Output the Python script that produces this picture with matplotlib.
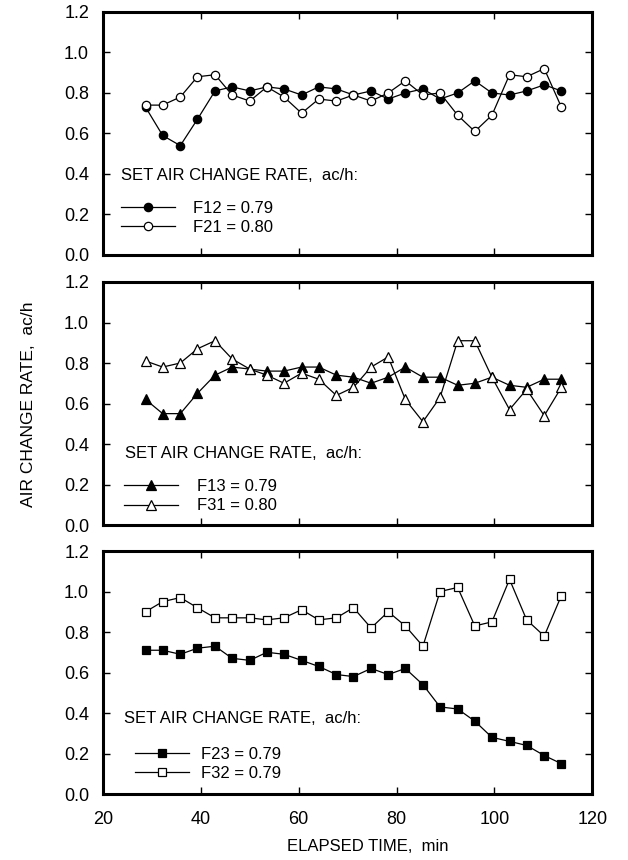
import matplotlib.pyplot as plt

plt.rcParams['font.family'] = ['Liberation Sans', 'DejaVu Sans']

# elapsed time of each sample (min), same for all three runs
minutes = [28.7, 32.2, 35.8, 39.3, 42.9, 46.4, 50.0, 53.5, 57.0, 60.6,
           64.1, 67.7, 71.2, 74.8, 78.3, 81.8, 85.4, 88.9, 92.5, 96.0,
           99.5, 103.1, 106.6, 110.2, 113.7]

# measured air change rates, ac/h
f12 = [0.73, 0.59, 0.54, 0.67, 0.81, 0.83, 0.81, 0.83, 0.82, 0.79,
       0.83, 0.82, 0.79, 0.81, 0.77, 0.80, 0.82, 0.77, 0.80, 0.86,
       0.80, 0.79, 0.81, 0.84, 0.81]
f21 = [0.74, 0.74, 0.78, 0.88, 0.89, 0.79, 0.76, 0.83, 0.78, 0.70,
       0.77, 0.76, 0.79, 0.76, 0.80, 0.86, 0.79, 0.80, 0.69, 0.61,
       0.69, 0.89, 0.88, 0.92, 0.73]

f13 = [0.62, 0.55, 0.55, 0.65, 0.74, 0.78, 0.77, 0.76, 0.76, 0.78,
       0.78, 0.74, 0.73, 0.70, 0.73, 0.78, 0.73, 0.73, 0.69, 0.70,
       0.73, 0.69, 0.68, 0.72, 0.72]
f31 = [0.81, 0.78, 0.80, 0.87, 0.91, 0.82, 0.77, 0.74, 0.70, 0.75,
       0.72, 0.64, 0.68, 0.78, 0.83, 0.62, 0.51, 0.63, 0.91, 0.91,
       0.73, 0.57, 0.67, 0.54, 0.68]

f23 = [0.71, 0.71, 0.69, 0.72, 0.73, 0.67, 0.66, 0.70, 0.69, 0.66,
       0.63, 0.59, 0.58, 0.62, 0.59, 0.62, 0.54, 0.43, 0.42, 0.36,
       0.28, 0.26, 0.24, 0.19, 0.15]
f32 = [0.90, 0.95, 0.97, 0.92, 0.87, 0.87, 0.87, 0.86, 0.87, 0.91,
       0.86, 0.87, 0.92, 0.82, 0.90, 0.83, 0.73, 1.00, 1.02, 0.83,
       0.85, 1.06, 0.86, 0.78, 0.98]

x_ticks = [20, 40, 60, 80, 100, 120]
y_ticks = [0.0, 0.2, 0.4, 0.6, 0.8, 1.0, 1.2]
y_tick_labels = ['0.0', '0.2', '0.4', '0.6', '0.8', '1.0', '1.2']

legend_title = 'SET AIR CHANGE RATE,  ac/h:'

# (filled series, label, open series, label, marker, marker size)
panels = [
    (f12, 'F12 = 0.79', f21, 'F21 = 0.80', 'o', 6.0),
    (f13, 'F13 = 0.79', f31, 'F31 = 0.80', '^', 6.5),
    (f23, 'F23 = 0.79', f32, 'F32 = 0.79', 's', 5.5),
]

# legend placement per panel, in axes fractions
# (title x, title y, entries x, entries centre y, text pad)
legend_layout = [
    (0.037, 0.329, 0.037, 0.152, 1.05),
    (0.045, 0.293, 0.043, 0.118, 1.1),
    (0.043, 0.3125, 0.065, 0.123, 0.75),
]

# axes bottoms in figure fractions (top to bottom)
bottoms = [0.7035, 0.3895, 0.0767]
ax_left, ax_width, ax_height = 0.164, 0.779, 0.2826

fig = plt.figure(figsize=(6.28, 8.6), dpi=100)

for i, (ya, la, yb, lb, mk, ms) in enumerate(panels):
    ax = fig.add_axes([ax_left, bottoms[i], ax_width, ax_height])

    ax.plot(minutes, ya, color='black', lw=0.9, marker=mk, ms=ms,
            mfc='black', mec='black', mew=0.9, label=la, zorder=3)
    ax.plot(minutes, yb, color='black', lw=0.9, marker=mk, ms=ms,
            mfc='white', mec='black', mew=0.9, label=lb, zorder=4)

    ax.set_xlim(20, 120)
    ax.set_ylim(0, 1.2)
    ax.set_xticks(x_ticks)
    ax.set_yticks(y_ticks)
    ax.set_yticklabels(y_tick_labels)
    ax.tick_params(direction='in', top=True, right=True, length=5,
                   width=1, labelsize=13, colors='black')
    ax.tick_params(axis='y', pad=10)
    ax.tick_params(axis='x', pad=12)
    if i < 2:
        ax.tick_params(axis='x', labelbottom=False)
    for sp in ax.spines.values():
        sp.set_linewidth(2.2)

    tx, ty, lx, ly, pad = legend_layout[i]
    ax.text(tx, ty, legend_title, transform=ax.transAxes, fontsize=12,
            ha='left', va='center')
    ax.legend(loc='center left', bbox_to_anchor=(lx, ly), frameon=False,
              fontsize=12, handlelength=3.25, handletextpad=pad,
              labelspacing=0.25, borderpad=0, borderaxespad=0)

fig.text(29 / 628, 1 - 404 / 860, 'AIR CHANGE RATE,  ac/h', rotation=90,
         ha='center', va='center', fontsize=12.5)
fig.text(368 / 628, 1 - 851 / 860, 'ELAPSED TIME,  min', ha='center',
         va='baseline', fontsize=12)

fig.savefig('out.png', dpi=100)
